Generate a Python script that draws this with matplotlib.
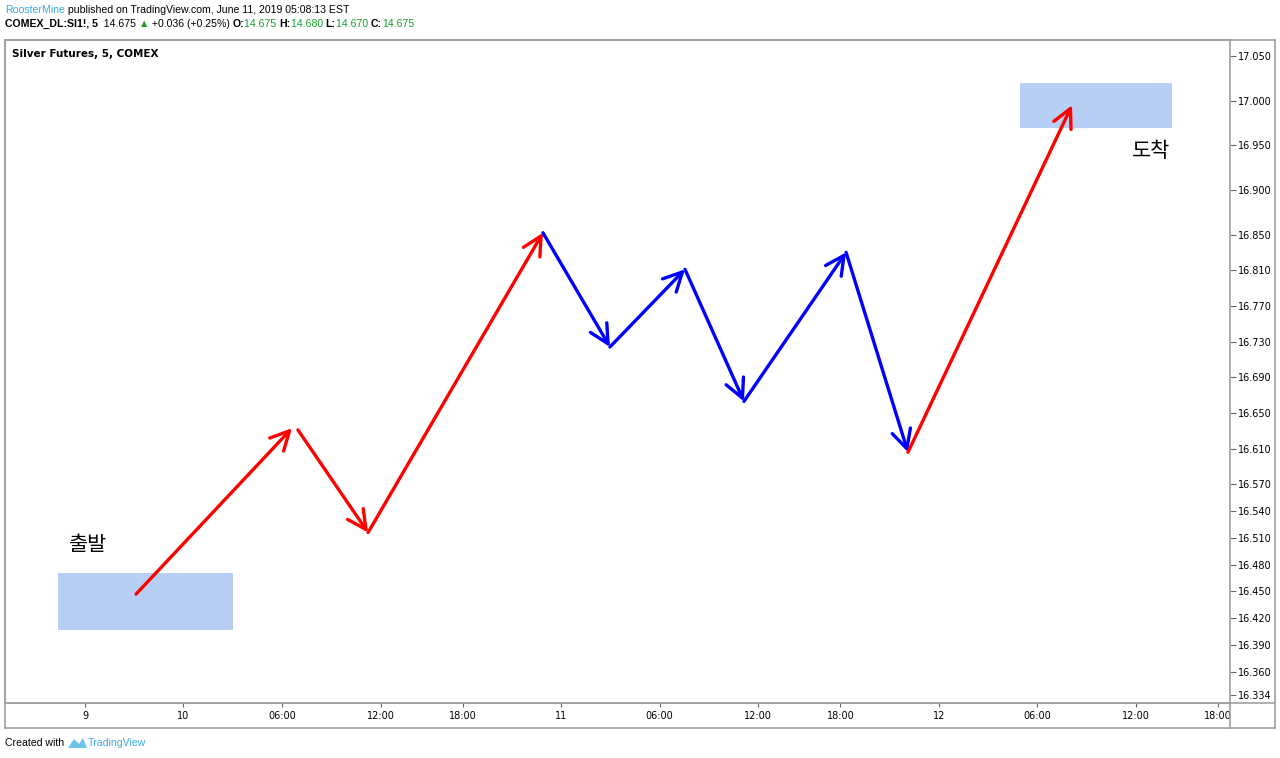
import matplotlib
matplotlib.use('Agg')
import matplotlib.pyplot as plt
from matplotlib.patches import Rectangle, Polygon
from matplotlib.lines import Line2D

# x = trading hours since the Sunday open (label "9"), y = price
tick_hours = [0, 6, 12, 18, 23, 29, 35, 41, 46, 52, 58, 64, 69]
tick_labels = ['9', '10', '06:00', '12:00', '18:00', '11', '06:00', '12:00',
               '18:00', '12', '06:00', '12:00', '18:00']
price_ticks = [17.050, 17.000, 16.950, 16.900, 16.850, 16.810, 16.770, 16.730,
               16.690, 16.650, 16.610, 16.570, 16.540, 16.510, 16.480, 16.450,
               16.420, 16.390, 16.360, 16.334]

# arrow legs: start (hour, price) -> end (hour, price)
leg_x0 = [3.11, 12.97, 17.24, 27.89, 31.97, 36.54, 40.13, 46.35, 50.12]
leg_y0 = [16.447, 16.631, 16.516, 16.852, 16.724, 16.811, 16.663, 16.830, 16.606]
leg_x1 = [12.61, 17.24, 27.89, 31.97, 36.54, 40.13, 46.35, 50.12, 60.11]
leg_y1 = [16.633, 16.516, 16.852, 16.724, 16.811, 16.663, 16.830, 16.606, 16.995]
leg_col = ['red', 'red', 'red', 'blue', 'blue', 'blue', 'blue', 'blue', 'red']

# zones: (x0, x1, y0, y1)
start_zone = (-1.64, 9.01, 16.407, 16.471)
end_zone = (56.94, 66.20, 16.969, 17.020)

W, H = 1280, 758
fig = plt.figure(figsize=(W / 100, H / 100), dpi=100)
fig.patch.set_facecolor('white')
plt.rcParams['font.family'] = ['DejaVu Sans']
grey = '#a0a0a0'

# outer frame (chart + axes strips)
bg = fig.add_axes([5 / W, 1 - 728 / H, 1270 / W, 688 / H])
bg.set_xticks([])
bg.set_yticks([])
for s in bg.spines.values():
    s.set_color(grey)
    s.set_linewidth(1.2)
fig.add_artist(Line2D([5 / W, 1275 / W], [1 - 703 / H, 1 - 703 / H],
                      color=grey, lw=1.2, transform=fig.transFigure))
fig.add_artist(Line2D([1230 / W, 1230 / W], [1 - 703 / H, 1 - 728 / H],
                      color=grey, lw=1.2, transform=fig.transFigure))

ax = fig.add_axes([5 / W, 1 - 703 / H, 1225 / W, 663 / H])
ax.set_facecolor('none')
ax.set_xlim(-4.87, 69.73)
ax.set_ylim(16.325, 17.068)
for s in ax.spines.values():
    s.set_color(grey)
    s.set_linewidth(1.2)

ax.yaxis.tick_right()
ax.set_yticks(price_ticks)
ax.set_yticklabels(['%.3f' % p for p in price_ticks])
ax.tick_params(axis='y', direction='out', length=4, width=0.8, color='#666666',
               labelsize=7, pad=2)
ax.set_xticks(tick_hours)
ax.set_xticklabels(tick_labels)
ax.tick_params(axis='x', direction='out', length=3, width=0.8, color='#666666',
               labelsize=7, pad=3)

# zones
for z in [start_zone, end_zone]:
    ax.add_patch(Rectangle((z[0], z[2]), z[1] - z[0], z[3] - z[2],
                           facecolor='#b7cff5', edgecolor='none', zorder=1))

# arrows
for x0, y0, x1, y1, c in zip(leg_x0, leg_y0, leg_x1, leg_y1, leg_col):
    ax.annotate('', xy=(x1, y1), xytext=(x0, y0),
                arrowprops=dict(arrowstyle='->,head_length=0.75,head_width=0.38',
                                color=c, lw=2.4, shrinkA=0, shrinkB=0,
                                mutation_scale=18), zorder=3)

kr = ['Noto Sans CJK KR', 'DejaVu Sans']
ax.text(-0.95, 16.502, '출발', family=kr, fontsize=15, ha='left', va='center')
ax.text(64.9, 16.944, '도착', family=kr, fontsize=15, ha='center', va='center')

ax.text(0.006, 0.986, 'Silver Futures, 5, COMEX', transform=ax.transAxes,
        fontsize=7.5, fontweight='bold', ha='left', va='top')

# header / footer text pieces placed one after another
renderer = fig.canvas.get_renderer()


def run_text(x_px, y_px, pieces, size=7.6):
    x = x_px / W
    for txt, col, bold in pieces:
        t = fig.text(x, 1 - y_px / H, txt, color=col, fontsize=size,
                     family=['Liberation Sans', 'DejaVu Sans'],
                     fontweight='bold' if bold else 'normal', va='center', ha='left')
        bb = t.get_window_extent(renderer)
        x = bb.x1 / W
    return x


green = '#1a9c32'
run_text(5, 10, [('RoosterMine', '#3ba9e0', False),
                 (' published on TradingView.com, June 11, 2019 05:08:13 EST', 'black', False)])
run_text(5, 24, [('COMEX_DL:SI1!, 5', 'black', True),
                 ('  14.675 ', 'black', False),
                 ('▲', green, False),
                 (' +0.036 (+0.25%) ', 'black', False),
                 ('O:', 'black', True), ('14.675 ', green, False),
                 ('H:', 'black', True), ('14.680 ', green, False),
                 ('L:', 'black', True), ('14.670 ', green, False),
                 ('C:', 'black', True), ('14.675', green, False)])
xe = run_text(5, 743, [('Created with ', 'black', False)])
# little TradingView mark
lx = xe * W + 1
fig.add_artist(Polygon([[(lx) / W, 1 - 748 / H], [(lx + 6) / W, 1 - 739 / H],
                        [(lx + 11) / W, 1 - 744 / H], [(lx + 15) / W, 1 - 738 / H],
                        [(lx + 19) / W, 1 - 748 / H]],
                       closed=True, facecolor='#6cc3ea', edgecolor='none',
                       transform=fig.transFigure))
run_text(lx + 20, 743, [('TradingView', '#3ba9e0', False)])

fig.savefig('out.png', dpi=100, facecolor='white')
